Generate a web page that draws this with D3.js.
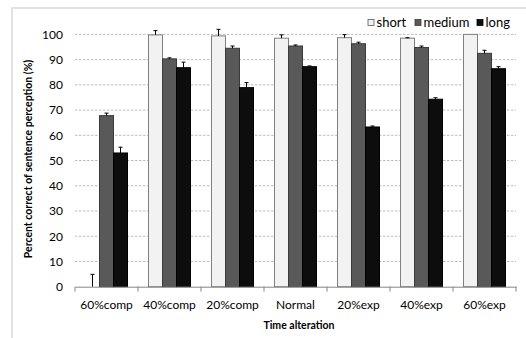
<!DOCTYPE html>
<html>
  <head>
    <style>
      body { margin: 0; background: #fff; }
      text { font-family: Lato, 'Open Sans', sans-serif; fill: #000; }
      .tick text { font-size: 12px; }
      .title { font-size: 10.5px; font-weight: bold; }
      .legend text { font-size: 13px; }
    </style>
  </head>
  <body>
    <script src="https://d3js.org/d3.v7.min.js"></script>
    <script>
      var width = 526;
      var height = 338;

      var categories = ["60%comp", "40%comp", "20%comp", "Normal", "20%exp", "40%exp", "60%exp"];
      var series = ["short", "medium", "long"];
      var shortVals = [0, 99.8, 99.4, 98.5, 98.7, 98.5, 100];
      var mediumVals = [67.8, 90.3, 94.5, 95.4, 96.3, 94.8, 92.5];
      var longVals = [53, 86.8, 78.9, 87.2, 63.3, 74.3, 86.4];
      var shortErr = [4.9, 1.7, 2.6, 1.3, 1.2, 0.2, 0];
      var mediumErr = [1, 0.4, 0.9, 0.4, 0.6, 0.6, 1.2];
      var longErr = [2.3, 2.2, 2, 0.3, 0.4, 0.6, 0.8];
      var yTicks = [0, 10, 20, 30, 40, 50, 60, 70, 80, 90, 100];

      var fills = { short: "#f2f2f2", medium: "#595959", long: "#0d0d0d" };
      var strokes = { short: "#808080", medium: "#3a3a3a", long: "#000" };

      var values = { short: shortVals, medium: mediumVals, long: longVals };
      var errs = { short: shortErr, medium: mediumErr, long: longErr };

      var data = [];
      categories.forEach(function(c, i) {
        series.forEach(function(s) {
          data.push({ cat: c, s: s, v: values[s][i], e: errs[s][i] });
        });
      });

      var svg = d3.select("body")
        .append("svg")
        .attr("width", width)
        .attr("height", height);

      // chart frame
      svg.append("rect")
        .attr("x", 12).attr("y", 8)
        .attr("width", 530).attr("height", 340)
        .attr("fill", "none")
        .attr("stroke", "#d9d9d9")
        .attr("stroke-width", 1.5);

      var x0 = d3.scaleBand().domain(categories).range([75, 516]);
      var x1 = d3.scaleBand().domain(series).range([0, x0.bandwidth()]).paddingOuter(0.75);
      var y = d3.scaleLinear().domain([0, 100]).range([286.7, 34.4]);

      // gridlines
      svg.append("g")
        .selectAll("line")
        .data(yTicks.filter(function(d) { return d > 0; }))
        .enter().append("line")
        .attr("x1", 75).attr("x2", 516)
        .attr("y1", function(d) { return y(d); })
        .attr("y2", function(d) { return y(d); })
        .attr("stroke", "#ababab")
        .attr("stroke-width", 0.8)
        .attr("stroke-dasharray", "2.5,1.5");

      // y axis labels
      var yAxis = svg.append("g")
        .attr("transform", "translate(75,0)")
        .call(d3.axisLeft(y).tickValues(yTicks).tickSize(0).tickPadding(12));
      yAxis.select(".domain").remove();

      // bars
      svg.append("g")
        .selectAll("rect")
        .data(data)
        .enter().append("rect")
        .attr("x", function(d) { return x0(d.cat) + x1(d.s); })
        .attr("y", function(d) { return y(d.v); })
        .attr("width", x1.bandwidth())
        .attr("height", function(d) { return y(0) - y(d.v); })
        .attr("fill", function(d) { return fills[d.s]; })
        .attr("stroke", function(d) { return strokes[d.s]; })
        .attr("stroke-width", 1);

      // error bars (plus direction)
      var eb = svg.append("g")
        .selectAll("g")
        .data(data.filter(function(d) { return d.e > 0; }))
        .enter().append("g")
        .attr("stroke", "#000")
        .attr("stroke-width", 1);
      eb.append("line")
        .attr("x1", function(d) { return x0(d.cat) + x1(d.s) + x1.bandwidth() / 2; })
        .attr("x2", function(d) { return x0(d.cat) + x1(d.s) + x1.bandwidth() / 2; })
        .attr("y1", function(d) { return y(d.v); })
        .attr("y2", function(d) { return y(d.v + d.e); });
      eb.append("line")
        .attr("x1", function(d) { return x0(d.cat) + x1(d.s) + x1.bandwidth() / 2 - 2; })
        .attr("x2", function(d) { return x0(d.cat) + x1(d.s) + x1.bandwidth() / 2 + 2; })
        .attr("y1", function(d) { return y(d.v + d.e); })
        .attr("y2", function(d) { return y(d.v + d.e); });

      // x axis
      var xAxis = svg.append("g")
        .attr("transform", "translate(0," + y(0) + ")")
        .call(d3.axisBottom(x0).tickSize(0).tickPadding(14));
      xAxis.select(".domain").attr("stroke", "#868686");
      xAxis.selectAll(".tick text").attr("font-size", 12);
      xAxis.selectAll(".sep")
        .data(categories.concat(["end"]))
        .enter().append("line")
        .attr("class", "sep")
        .attr("x1", function(d, i) { return i < categories.length ? x0(d) : 516; })
        .attr("x2", function(d, i) { return i < categories.length ? x0(d) : 516; })
        .attr("y1", 0).attr("y2", 5)
        .attr("stroke", "#868686");

      // axis titles
      svg.append("text")
        .attr("class", "title")
        .attr("x", 299).attr("y", 329)
        .attr("text-anchor", "middle")
        .text("Time alteration");

      svg.append("text")
        .attr("class", "title")
        .attr("transform", "translate(32,159) rotate(-90)")
        .attr("text-anchor", "middle")
        .text("Percent correct of sentence perception (%)");

      // legend
      var lx = [368, 415, 477];
      var legend = svg.append("g").attr("class", "legend")
        .selectAll("g")
        .data(series)
        .enter().append("g")
        .attr("transform", function(d, i) { return "translate(" + lx[i] + ",20)"; });
      legend.append("rect")
        .attr("width", 6).attr("height", 6)
        .attr("y", -0.5)
        .attr("fill", function(d) { return fills[d]; })
        .attr("stroke", function(d) { return d === "short" ? "#595959" : strokes[d]; })
        .attr("stroke-width", 0.8);
      legend.append("text")
        .attr("x", 8.5).attr("y", 7)
        .text(function(d) { return d; });
    </script>
  </body>
</html>
